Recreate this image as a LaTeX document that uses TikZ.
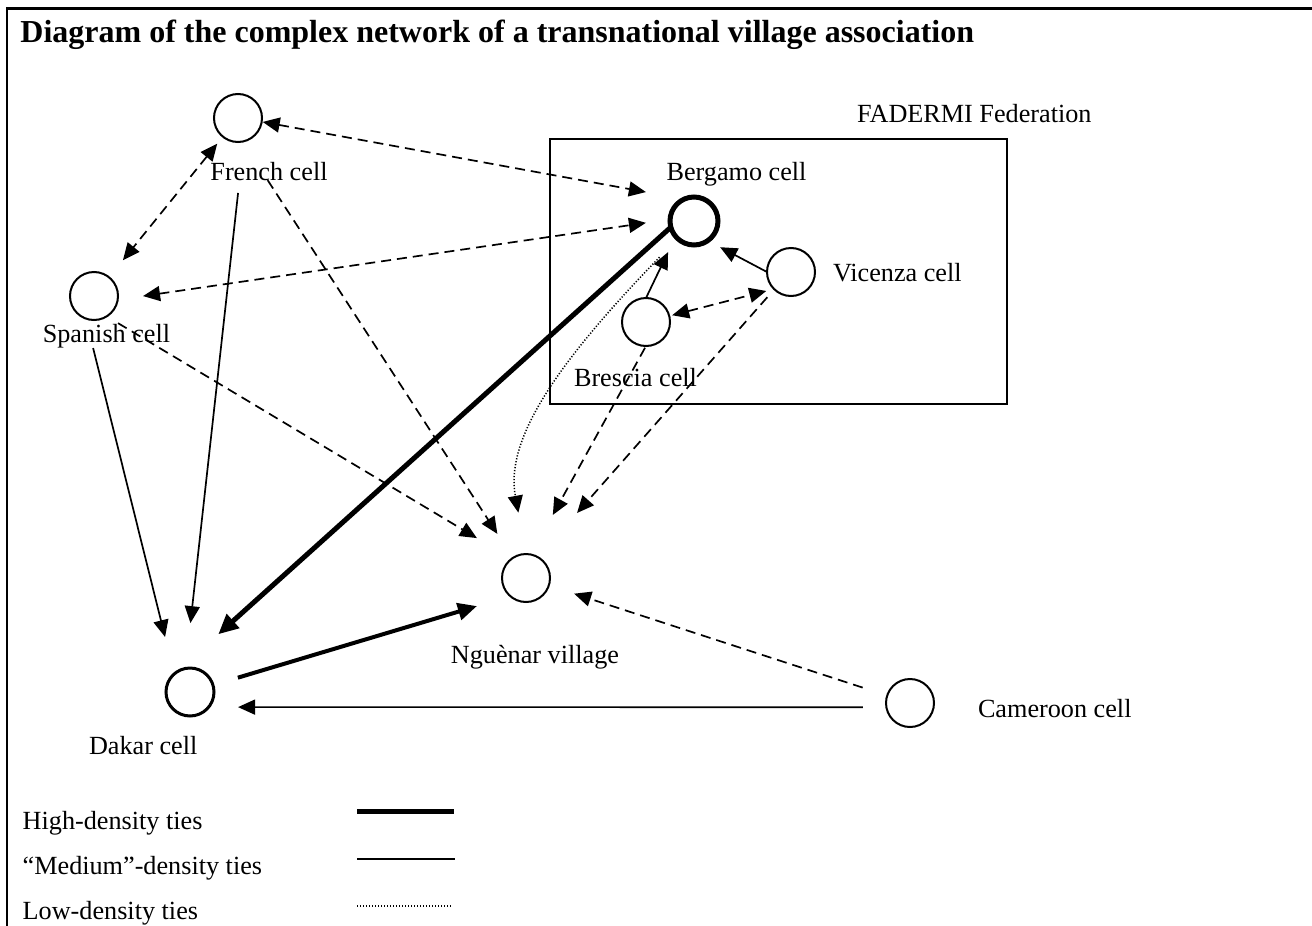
\documentclass[tikz,border=0pt]{standalone}
\usepackage{fontspec}
\setmainfont{Liberation Serif}
\usetikzlibrary{arrows.meta}
\tikzset{
  cell/.style={circle, draw, line width=1pt, minimum size=24pt, inner sep=0pt, outer sep=0pt},
  lbl/.style={anchor=base, inner sep=0pt, outer sep=0pt, font=\fontsize{13.1}{15}\selectfont},
  lblw/.style={lbl, anchor=base west},
  tipm/.tip={Triangle[length=8.5pt,width=7.5pt]},
  tiph/.tip={Triangle[length=10pt,width=9pt]},
  medtie/.style={line width=0.85pt, -tipm},
  hightie/.style={line width=2.5pt, -tiph},
  dashtie/.style={line width=0.85pt, dash pattern=on 5pt off 3pt, -tipm},
  dashboth/.style={dashtie, tipm-tipm},
  lowtie/.style={line width=0.75pt, dash pattern=on 0.6pt off 0.9pt, -tipm},
}
\begin{document}
\begin{tikzpicture}[x=0.5pt,y=-0.5pt]
\useasboundingbox (0,0) rectangle (1312,926);
% frame
\draw[line width=1.35pt, line join=miter] (7,930) -- (7,8.7) -- (1320,8.7);
\node[anchor=base west, inner sep=0pt, font=\bfseries\fontsize{16}{19}\selectfont] (title) at (20,42)
  {Diagram of the complex network of a transnational village association};

% federation box
\node[draw, line width=0.9pt, minimum width=228.5pt, minimum height=132.5pt, inner sep=0pt, outer sep=0pt] (fadermi) at (778.5,271.5) {};
\node[lblw] (lfad) at (857,122) {FADERMI Federation};

% cells
\node[cell] (french) at (238,118) {};
\node[cell] (spanish) at (94,296) {};
\node[cell, line width=2.5pt] (bergamo) at (694,221) {};
\node[cell] (vicenza) at (791,272) {};
\node[cell] (brescia) at (646,322) {};
\node[cell] (nguenar) at (526,578) {};
\node[cell, line width=1.5pt] (dakar) at (190,692) {};
\node[cell] (cameroon) at (910,703) {};

% labels
\node[lbl] (lfrench) at (269,180) {French cell};
\node[lbl] (lspanish) at (106.5,342) {Spanish cell};
\node[lbl] (lbergamo) at (736.5,180) {Bergamo cell};
\node[lblw] (lvicenza) at (833,281.7) {Vicenza cell};
\node[lbl] (lbrescia) at (635.5,386.7) {Brescia cell};
\node[lbl] (lnguenar) at (535,663) {Nguènar village};
\node[lblw] (ldakar) at (89,754) {Dakar cell};
\node[lblw] (lcameroon) at (978,717) {Cameroon cell};

% connectors
\draw[dashboth, shorten <=0.5pt, shorten >=19.5pt] (french.351) -- (bergamo.114);
\draw[dashboth, shorten <=4.5pt, shorten >=11pt] (french) -- (spanish);
\draw[dashboth, shorten <=12.8pt, shorten >=12.2pt] (spanish.351) -- (bergamo.176);
\draw[medtie, shorten <=26pt, shorten >=22.8pt] (french.284) -- (dakar.101);
\draw[dashtie, shorten <=23pt, shorten >=14.3pt] (french.281) -- (nguenar);
\draw[dashtie, shorten <=6.6pt, shorten >=20.2pt] (spanish.302) -- (nguenar.127);
\draw[medtie, shorten <=15.2pt, shorten >=19pt] (spanish.250) -- (dakar.131);
\draw[hightie, shorten >=29.6pt] (bergamo.195) -- (dakar.131);
\draw[line width=2pt, -{Triangle[length=9.5pt,width=8.5pt]}, shorten <=13pt, shorten >=17.4pt] (dakar) -- (nguenar.229);
\draw[medtie, shorten <=11.7pt, shorten >=14.7pt] (cameroon.190) -- (dakar.-39);
\draw[dashtie, shorten <=12.9pt, shorten >=13.3pt] (cameroon) -- (nguenar);
\draw[medtie, shorten >=7pt] (vicenza.west) -- (bergamo.305);
\draw[medtie, shorten >=8.7pt] (brescia.north) -- (bergamo.220);
\draw[dashboth, shorten <=1.5pt, shorten >=4pt] (brescia) -- (vicenza.225);
\draw[dashtie, shorten <=1pt, shorten >=22.6pt] (brescia.south) -- (nguenar.78);
\draw[dashtie, shorten <=5.3pt, shorten >=29.5pt] (vicenza.226) -- (nguenar.60);
\draw[lowtie, shorten <=13pt, shorten >=21pt] (bergamo.227) .. controls (555,365) and (505,440) .. (nguenar.north);

% legend
\node[lblw] (lhigh) at (22.7,829) {High-density ties};
\node[lblw] (lmed) at (22.7,874) {“Medium”-density ties};
\node[lblw] (llow) at (22.7,919) {Low-density ties};
\coordinate (hiA) at (357,811); \coordinate (hiB) at (454,811);
\coordinate (meA) at (357,858.7); \coordinate (meB) at (455,858.7);
\coordinate (loA) at (357,906); \coordinate (loB) at (452,906);
\draw[line width=2.5pt] (hiA) -- (hiB);
\draw[line width=1pt] (meA) -- (meB);
\draw[line width=0.6pt, dash pattern=on 0.5pt off 1pt] (loA) -- (loB);
\end{tikzpicture}
\end{document}
